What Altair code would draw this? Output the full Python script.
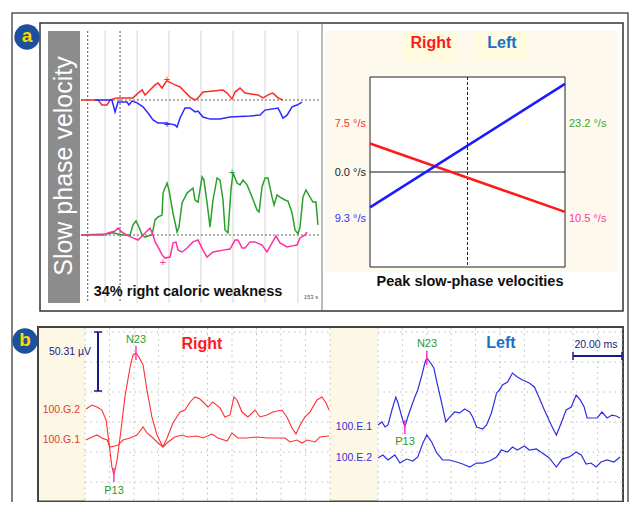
import altair as alt
import pandas as pd

FONT = "Liberation Sans"
M = 8  # page margin: image px -> chart px

# ---------------- data ----------------
# Panel a (left): slow-phase velocity traces, time in s, velocity in deg/s
red_t = [0, 10.9, 13.4, 16.6, 18.6, 23.0, 33.3, 36.5, 39.1, 41.0, 44.2, 47.4, 49.3, 51.9, 53.8, 55.1, 60.2, 63.4,
         66.6, 69.8, 73.0, 74.9, 78.1, 84.5, 90.9, 93.5, 96.7, 98.6, 101.8, 105.0, 113.3, 116.5, 121.0, 122.9, 126.1, 129.3]
red_v = [0, 0, -1.9, -1.9, 0, 0.8, 0.8, 2.6, 3.8, 1.9, 3.8, 5.7, 6.4, 4.5, 6.4, 7.2, 5.7, 4.9,
         3.0, 1.1, 0, 0.8, 3.0, 3.4, 3.8, 2.6, 0.4, 3.0, 4.5, 2.6, 1.9, 0.8, 2.3, 2.6, 0.8, 0]
blue_t = [9.0, 19.8, 21.8, 23.7, 29.4, 30.7, 32.7, 35.9, 39.7, 42.9, 46.1, 49.3, 53.8, 57.0, 60.2, 61.5, 63.4, 66.6,
          69.8, 73.0, 74.9, 78.1, 82.6, 89.0, 95.4, 108.2, 114.6, 117.8, 126.1, 127.4, 129.3, 131.9, 135.1, 138.3, 141.5]
blue_v = [0, 0, -4.5, -0.8, -0.8, -1.9, -0.4, -1.1, -2.6, -4.9, -7.5, -8.7, -8.7, -9.0, -9.4, -10.2, -6.8, -3.0,
          -3.0, -4.5, -4.2, -6.4, -7.2, -7.2, -6.4, -6.0, -5.7, -3.8, -3.0, -4.5, -6.8, -5.7, -2.6, -1.9, -0.8]
green_t = [0, 16.6, 20.5, 23.7, 26.9, 31.4, 33.3, 35.2, 37.1, 39.1, 41.0, 42.9, 45.5, 47.4, 49.3, 51.9, 52.5, 55.1,
           56.3, 58.9, 61.5, 62.7, 64.7, 67.9, 71.7, 73.0, 74.9, 77.5, 78.7, 80.7, 82.6, 84.5, 87.1, 89.0, 90.9, 92.2,
           94.1, 96.0, 97.3, 99.9, 101.8, 103.7, 106.3, 109.5, 112.7, 114.0, 115.9, 117.8, 119.7, 122.3, 123.6, 125.5,
           127.4, 130.6, 132.5, 135.1, 137.0, 138.9, 140.2, 142.1, 144.0, 146.6, 148.5, 150.4, 151.7]
green_v = [0, 0.4, 0.8, 0.4, 0, 0, 3.8, 5.3, 3.0, 0, -0.8, -0.4, 0, 5.7, 6.8, 7.5, 15.8, 19.6,
           17.0, 8.3, 1.1, 3.0, 12.1, 15.8, 17.7, 13.2, 12.4, 21.9, 20.7, 12.1, 3.0, 13.2, 21.5, 20.7, 13.2, 1.9,
           0.8, 17.0, 23.4, 19.6, 18.9, 20.7, 18.9, 14.3, 9.4, 8.7, 18.1, 21.5, 21.5, 14.3, 11.3, 15.1,
           14.3, 13.2, 12.8, 8.3, 1.9, 0.4, 3.0, 14.3, 17.0, 14.3, 12.4, 12.4, 3.8]
mag_t = [0, 14.7, 17.3, 21.8, 23.7, 26.2, 29.4, 33.3, 36.5, 39.7, 42.3, 44.2, 46.1, 47.4, 49.3, 51.9, 53.8, 57.0,
         58.9, 60.8, 62.1, 64.7, 67.9, 71.7, 74.9, 78.1, 80.7, 84.5, 90.9, 95.4, 98.6, 100.5, 103.1, 105.0, 108.2,
         111.4, 115.9, 119.1, 122.3, 124.8, 127.4, 131.9, 135.1, 138.3, 140.2, 143.4, 144.7]
mag_v = [0, 0, 0.8, 1.5, 2.6, 1.1, 0, -1.1, -1.9, 0, 1.5, 2.6, 0, -2.6, -4.5, -7.5, -8.7, -8.3,
         -3.0, -2.6, -5.7, -6.4, -4.9, -2.6, -1.9, -5.7, -8.3, -6.4, -5.7, -5.3, -1.9, -1.9, -4.9, -4.9, -2.6,
         -2.6, -3.8, -6.4, -3.0, -0.4, -3.0, -4.5, -4.1, -3.8, -1.1, 0, 1.1]
peak_top_t = [55.1, 55.1]
peak_top_v = [7.5, -9.3]
peak_top_c = ["#ff2a2a", "#2a2aff"]
peak_bot_t = [96.7, 52.5]
peak_bot_v = [23.2, -10.5]
peak_bot_c = ["#2ca02c", "#ff30a0"]
grid_solid_t = [15.4, 35.9, 56.3, 76.8, 97.3, 117.8, 138.9]
grid_dot_t = [4.3, 25.0]

# Panel a (right): peak slow-phase velocities
spv_pos = [0, 1]
spv_right = [7.5, -10.5]
spv_left = [-9.3, 23.2]

# Panel b: VEMP traces, time in ms, amplitude in microvolts
g2_ms = [0.4, 2.9, 4.9, 6.9, 8.6, 9.8, 11.0, 11.8, 13.1, 14.7, 16.3, 18.4, 19.6, 20.8, 22.0, 23.7, 25.3, 27.3,
         29.4, 31.8, 33.5, 35.9, 38.8, 40.8, 42.9, 44.9, 46.9, 50.2, 52.2, 55.1, 57.1, 59.2, 60.8, 62.0, 64.1, 66.5,
         69.4, 71.4, 74.3, 76.7, 80.4, 82.4, 84.5, 86.1, 87.8, 89.8, 91.8, 94.7, 96.7, 98.4, 99.6]
g2_uv = [0, 3.4, 1.7, -0.9, -9.4, -29.1, -49.6, -56.4, -43.6, -17.9, 10.3, 35.9, 46.2, 47.9, 44.4, 37.6, 16.2, -6.8,
         -22.2, -32.5, -24.8, -12.0, -2.6, -0.9, 6.0, 10.3, 8.5, 1.7, 6.0, 0.9, -6.8, -5.1, 10.3, 7.7, -2.6, -6.8,
         -0.9, -6.8, -5.1, -2.6, -0.9, -6.8, -16.2, -21.4, -13.7, -6.8, -2.6, 7.7, 10.3, 5.1, -0.9]
g1_ms = [0.4, 2.9, 4.9, 6.9, 9.0, 10.2, 12.2, 13.5, 15.5, 18.4, 21.2, 23.7, 25.3, 27.3, 29.4, 31.8, 33.9, 36.7,
         39.6, 42.0, 45.7, 48.2, 51.8, 54.3, 58.0, 60.0, 62.4, 66.1, 70.2, 74.3, 78.4, 81.6, 83.7, 86.5, 88.6, 90.6,
         93.9, 95.9, 99.6]
g1_uv = [0, 2.6, 4.3, 1.7, 0, -6.0, -5.1, -4.3, 0, 1.7, 4.3, 11.1, 6.0, 2.6, -1.7, -6.0, -1.7, 2.6,
         4.3, 2.6, 3.4, 1.7, 5.1, 1.7, -0.9, 6.0, 1.7, 1.7, 2.6, 1.7, 1.7, 1.7, -1.7, 0, -2.6, 0,
         -1.7, 2.6, 3.4]
e1_ms = [0, 1.6, 2.9, 4.1, 5.7, 7.3, 8.2, 9.8, 11.0, 12.2, 13.9, 15.1, 16.3, 18.0, 19.2, 20.0, 21.6, 22.9, 24.1,
         26.1, 27.8, 29.4, 31.4, 33.5, 35.5, 37.6, 38.8, 40.4, 42.9, 44.5, 46.5, 48.6, 49.8, 51.0, 53.1, 55.1, 57.1,
         59.2, 62.0, 64.1, 66.1, 68.2, 71.0, 73.1, 75.1, 77.1, 79.2, 81.2, 82.9, 84.5, 85.7, 87.8, 89.8, 91.8, 93.9,
         95.9, 97.6, 99.2]
e1_uv = [0, 2.6, -1.7, 0, 12.8, 23.9, 18.8, 6.8, -1.7, 6.8, 17.1, 23.9, 29.9, 42.7, 53.0, 57.3, 53.0, 48.7, 36.8,
         18.8, 2.6, 6.8, 11.1, 10.3, 13.7, 11.1, 6.8, -1.7, -3.4, 0, 10.3, 27.4, 29.9, 34.2, 36.8, 44.4, 41.0,
         38.5, 35.9, 32.5, 23.1, 12.8, 0, -8.5, 1.7, 12.8, 15.4, 25.6, 21.4, 15.4, 6.0, 6.0, 6.0, 11.1, 6.0,
         8.5, 7.7, 6.0]
e2_ms = [0, 2.0, 4.1, 6.9, 9.0, 11.8, 14.3, 16.3, 18.4, 20.0, 22.0, 24.1, 26.5, 29.4, 32.2, 34.7, 37.6, 40.4,
         42.9, 45.7, 48.6, 50.6, 53.1, 55.1, 57.1, 60.0, 62.0, 64.9, 67.3, 70.2, 73.1, 75.5, 78.4, 81.2, 83.3, 85.3,
         87.3, 89.4, 91.4, 93.9, 96.7, 99.2]
e2_uv = [0, 2.6, -1.7, 2.6, -4.3, -0.9, -2.6, 0.9, 12.8, 19.7, 13.7, 4.3, -1.7, -1.7, -3.4, -5.1, -7.7, -4.3,
         -4.3, -2.6, 0.9, 6.8, 5.1, 9.4, 6.8, 10.3, 6.8, 7.7, 4.3, 0, -7.7, -0.9, 0.9, 5.1, 2.6, -5.1,
         -4.3, -7.7, -3.4, -1.7, -3.4, 0.9]
vemp_grid_ms = [0, 10, 20, 30, 40, 50, 60, 70, 80, 90, 100]
right_peaks_ms = [11.8, 20.8]
right_peaks_uv = [-56.4, 47.9]
left_peaks_ms = [11.0, 20.0]
left_peaks_uv = [-1.7, 57.3]

# ---------------- helpers ----------------
ONE = pd.DataFrame({"d": [0]})
K_UV = 1.17  # px per microvolt
SPV_K = 0.377  # deg/s per px


def sc(domain, r0, r1):
    return alt.Scale(domain=domain, range=[r0 - M, r1 - M], nice=False, zero=False)


def rect(x1, y1, x2, y2, fill=None, stroke=None, sw=1.0):
    kw = {}
    if fill:
        kw["fill"] = fill
    else:
        kw["fillOpacity"] = 0
    if stroke:
        kw["stroke"] = stroke
        kw["strokeWidth"] = sw
    return alt.Chart(ONE).mark_rect(**kw).encode(
        x=alt.value(x1 - M), x2=alt.value(x2 - M), y=alt.value(y1 - M), y2=alt.value(y2 - M))


def seg(x1, y1, x2, y2, color, sw=1.0, dash=None):
    kw = dict(color=color, strokeWidth=sw)
    if dash:
        kw["strokeDash"] = dash
    return alt.Chart(ONE).mark_rule(**kw).encode(
        x=alt.value(x1 - M), x2=alt.value(x2 - M), y=alt.value(y1 - M), y2=alt.value(y2 - M))


def txt(s, x, y, size, color, bold=False, align="center", angle=0):
    kw = dict(text=s, fontSize=size, color=color, font=FONT, align=align, baseline="middle")
    if bold:
        kw["fontWeight"] = "bold"
    if angle:
        kw["angle"] = angle
    return alt.Chart(ONE).mark_text(**kw).encode(x=alt.value(x - M), y=alt.value(y - M))


def trace(t, v, xscale, yscale, color, sw):
    df = pd.DataFrame({"x": t, "y": v})
    return alt.Chart(df).mark_line(color=color, strokeWidth=sw).encode(
        x=alt.X("x:Q", scale=xscale, axis=None), y=alt.Y("y:Q", scale=yscale, axis=None))


layers = []

# ---------------- frames & backgrounds ----------------
layers.append(rect(12, 13, 628, 520, stroke="#555555", sw=1.5))
layers.append(rect(40, 23, 623, 311, fill="#ffffff", stroke="#333333", sw=1.5))
layers.append(seg(322, 23, 322, 311, "#777777", 1))
layers.append(rect(325, 31, 617, 272, fill="#fdf9ec"))
layers.append(rect(403, 31, 457, 61, fill="#fefbdf"))
layers.append(rect(474, 31, 528, 61, fill="#fefbdf"))
layers.append(rect(48, 31, 80, 303, fill="#8c8c8c"))
layers.append(rect(81, 31, 320, 303, fill="#ffffff"))
layers.append(rect(38, 327, 623, 501.5, fill="#fdf8e6", stroke="#444444", sw=2))
layers.append(rect(85, 328, 330, 500.5, fill="#ffffff"))
layers.append(rect(378, 328, 622, 500.5, fill="#ffffff"))

# ---------------- panel a left ----------------
T = sc([0, 153], 81, 320)
YT = sc([-(303 - 100) * SPV_K, (100 - 31) * SPV_K], 303, 31)
YB = sc([-(303 - 235) * SPV_K, (235 - 31) * SPV_K], 303, 31)

layers.append(alt.Chart(pd.DataFrame({"t": grid_solid_t})).mark_rule(color="#d4d4d4", strokeWidth=1).encode(
    x=alt.X("t:Q", scale=T, axis=None), y=alt.value(31 - M), y2=alt.value(303 - M)))
layers.append(alt.Chart(pd.DataFrame({"t": grid_dot_t})).mark_rule(color="#555555", strokeWidth=1,
                                                                  strokeDash=[2, 2]).encode(
    x=alt.X("t:Q", scale=T, axis=None), y=alt.value(31 - M), y2=alt.value(303 - M)))
layers.append(alt.Chart(pd.DataFrame({"v": [0]})).mark_rule(color="#666666", strokeWidth=1, strokeDash=[2, 2]).encode(
    y=alt.Y("v:Q", scale=YT, axis=None), x=alt.value(81 - M), x2=alt.value(320 - M)))
layers.append(alt.Chart(pd.DataFrame({"v": [0]})).mark_rule(color="#666666", strokeWidth=1, strokeDash=[2, 2]).encode(
    y=alt.Y("v:Q", scale=YB, axis=None), x=alt.value(81 - M), x2=alt.value(320 - M)))

layers.append(trace(red_t, red_v, T, YT, "#ff2a2a", 1.5))
layers.append(trace(blue_t, blue_v, T, YT, "#2a2aff", 1.5))
layers.append(trace(green_t, green_v, T, YB, "#2ca02c", 1.5))
layers.append(trace(mag_t, mag_v, T, YB, "#ff30a0", 1.5))

layers.append(alt.Chart(pd.DataFrame({"t": peak_top_t, "v": peak_top_v, "c": peak_top_c})).mark_text(
    text="+", fontSize=11, font=FONT, baseline="middle").encode(
    x=alt.X("t:Q", scale=T, axis=None), y=alt.Y("v:Q", scale=YT, axis=None), color=alt.Color("c:N", scale=None)))
layers.append(alt.Chart(pd.DataFrame({"t": peak_bot_t, "v": peak_bot_v, "c": peak_bot_c})).mark_text(
    text="+", fontSize=11, font=FONT, baseline="middle").encode(
    x=alt.X("t:Q", scale=T, axis=None), y=alt.Y("v:Q", scale=YB, axis=None), color=alt.Color("c:N", scale=None)))

layers.append(txt("Slow phase velocity", 64, 166, 25, "#ffffff", angle=270))
layers.append(txt("34% right caloric weakness", 188, 292, 14.5, "#111111", bold=True))
layers.append(txt("153 s", 311, 297, 6, "#555555"))

# ---------------- panel a right ----------------
PX = sc([0, 1], 370, 565)
PY = sc([-25, 25], 267, 77)
layers.append(rect(370, 77, 565, 267, fill="#ffffff", stroke="#222222", sw=1))
layers.append(alt.Chart(pd.DataFrame({"v": [0]})).mark_rule(color="#111111", strokeWidth=1).encode(
    y=alt.Y("v:Q", scale=PY, axis=None), x=alt.value(370 - M), x2=alt.value(565 - M)))
layers.append(alt.Chart(pd.DataFrame({"p": [0.5]})).mark_rule(color="#222222", strokeWidth=1,
                                                              strokeDash=[3, 2]).encode(
    x=alt.X("p:Q", scale=PX, axis=None), y=alt.value(77 - M), y2=alt.value(267 - M)))
layers.append(trace(spv_pos, spv_right, PX, PY, "#ff1a1a", 2.5))
layers.append(trace(spv_pos, spv_left, PX, PY, "#1a1aff", 2.5))

layers.append(txt("Right", 431, 43, 16, "#ff1a1a", bold=True))
layers.append(txt("Left", 502, 43, 16, "#1a6fcc", bold=True))
layers.append(txt("7.5 °/s", 366, 124, 11, "#ff3333", align="right"))
layers.append(txt("0.0 °/s", 366, 173, 11, "#222222", align="right"))
layers.append(txt("9.3 °/s", 366, 219, 11, "#3333ff", align="right"))
layers.append(txt("23.2 °/s", 569, 124, 11, "#33aa33", align="left"))
layers.append(txt("10.5 °/s", 569, 219, 11, "#ff33aa", align="left"))
layers.append(txt("Peak slow-phase velocities", 470, 282, 14.5, "#111111", bold=True))

# ---------------- panel b ----------------
BXL = sc([0, 100], 85, 330)
BXR = sc([0, 100], 378, 622)


def vy(base):
    return sc([-(502 - base) / K_UV, (base - 328) / K_UV], 502, 328)


for xs, x0, x1 in ((BXL, 85, 330), (BXR, 378, 622)):
    layers.append(alt.Chart(pd.DataFrame({"m": vemp_grid_ms})).mark_rule(
        color="#bdbdbd", strokeWidth=1, strokeDash=[1.5, 4]).encode(
        x=alt.X("m:Q", scale=xs, axis=None), y=alt.value(328 - M), y2=alt.value(500 - M)))
    for gy in (332, 362, 392, 422, 452, 482):
        layers.append(seg(x0, gy, x1, gy, "#bdbdbd", 1, [1.5, 4]))

YG2, YG1, YE1, YE2 = vy(409), vy(440), vy(425), vy(458)
layers.append(trace(g2_ms, g2_uv, BXL, YG2, "#ff3030", 1.1))
layers.append(trace(g1_ms, g1_uv, BXL, YG1, "#ff3030", 1.1))
layers.append(trace(e1_ms, e1_uv, BXR, YE1, "#2f2fe0", 1.2))
layers.append(trace(e2_ms, e2_uv, BXR, YE2, "#2f2fe0", 1.2))

for ms, uv, xs, ys in ((right_peaks_ms, right_peaks_uv, BXL, YG2), (left_peaks_ms, left_peaks_uv, BXR, YE1)):
    dfp = pd.DataFrame({"m": ms, "u": uv})
    layers.append(alt.Chart(dfp).transform_calculate(lo="datum.u - 6", hi="datum.u + 6").mark_rule(
        color="#ff33cc", strokeWidth=1.5).encode(
        x=alt.X("m:Q", scale=xs, axis=None), y=alt.Y("lo:Q", scale=ys, axis=None), y2="hi:Q"))

# scale bars
layers.append(seg(98, 332, 98, 391, "#1a1a80", 2))
layers.append(seg(94, 332, 102, 332, "#1a1a80", 1.5))
layers.append(seg(94, 391, 102, 391, "#1a1a80", 1.5))
layers.append(seg(573, 356, 622, 356, "#1a1a80", 2))
layers.append(seg(573, 352, 573, 360, "#1a1a80", 1.5))
layers.append(seg(622, 352, 622, 360, "#1a1a80", 1.5))

layers.append(txt("50.31 µV", 70, 352, 10.5, "#1a1a80"))
layers.append(txt("20.00 ms", 596, 345, 10.5, "#1a1a80"))
layers.append(txt("N23", 136, 340, 11, "#2a9a2a"))
layers.append(txt("P13", 114, 491, 11, "#2a9a2a"))
layers.append(txt("N23", 427, 344, 11, "#2a9a2a"))
layers.append(txt("P13", 405, 442, 11, "#2a9a2a"))
layers.append(txt("Right", 202, 344, 16, "#ff1a1a", bold=True))
layers.append(txt("Left", 501, 343, 16, "#1a6fcc", bold=True))
layers.append(txt("100.G.2", 80, 410, 10.5, "#e03a3a", align="right"))
layers.append(txt("100.G.1", 80, 440, 10.5, "#e03a3a", align="right"))
layers.append(txt("100.E.1", 372, 427, 10.5, "#2f2fe0", align="right"))
layers.append(txt("100.E.2", 372, 458, 10.5, "#2f2fe0", align="right"))

# badges
for cx, cy, lab in ((27, 37, "a"), (25, 341, "b")):
    layers.append(alt.Chart(ONE).mark_circle(size=640, color="#1d4f9e", opacity=1).encode(
        x=alt.value(cx - M), y=alt.value(cy - M)))
    layers.append(txt(lab, cx, cy - 1, 19, "#ffd800", bold=True))

chart = alt.layer(*layers).resolve_scale(x="independent", y="independent", color="independent").properties(
    width=621, height=494, padding=0, autosize="none"
).configure_view(stroke=None)

chart.save("out.html", embed_options={"renderer": "svg", "actions": False})
